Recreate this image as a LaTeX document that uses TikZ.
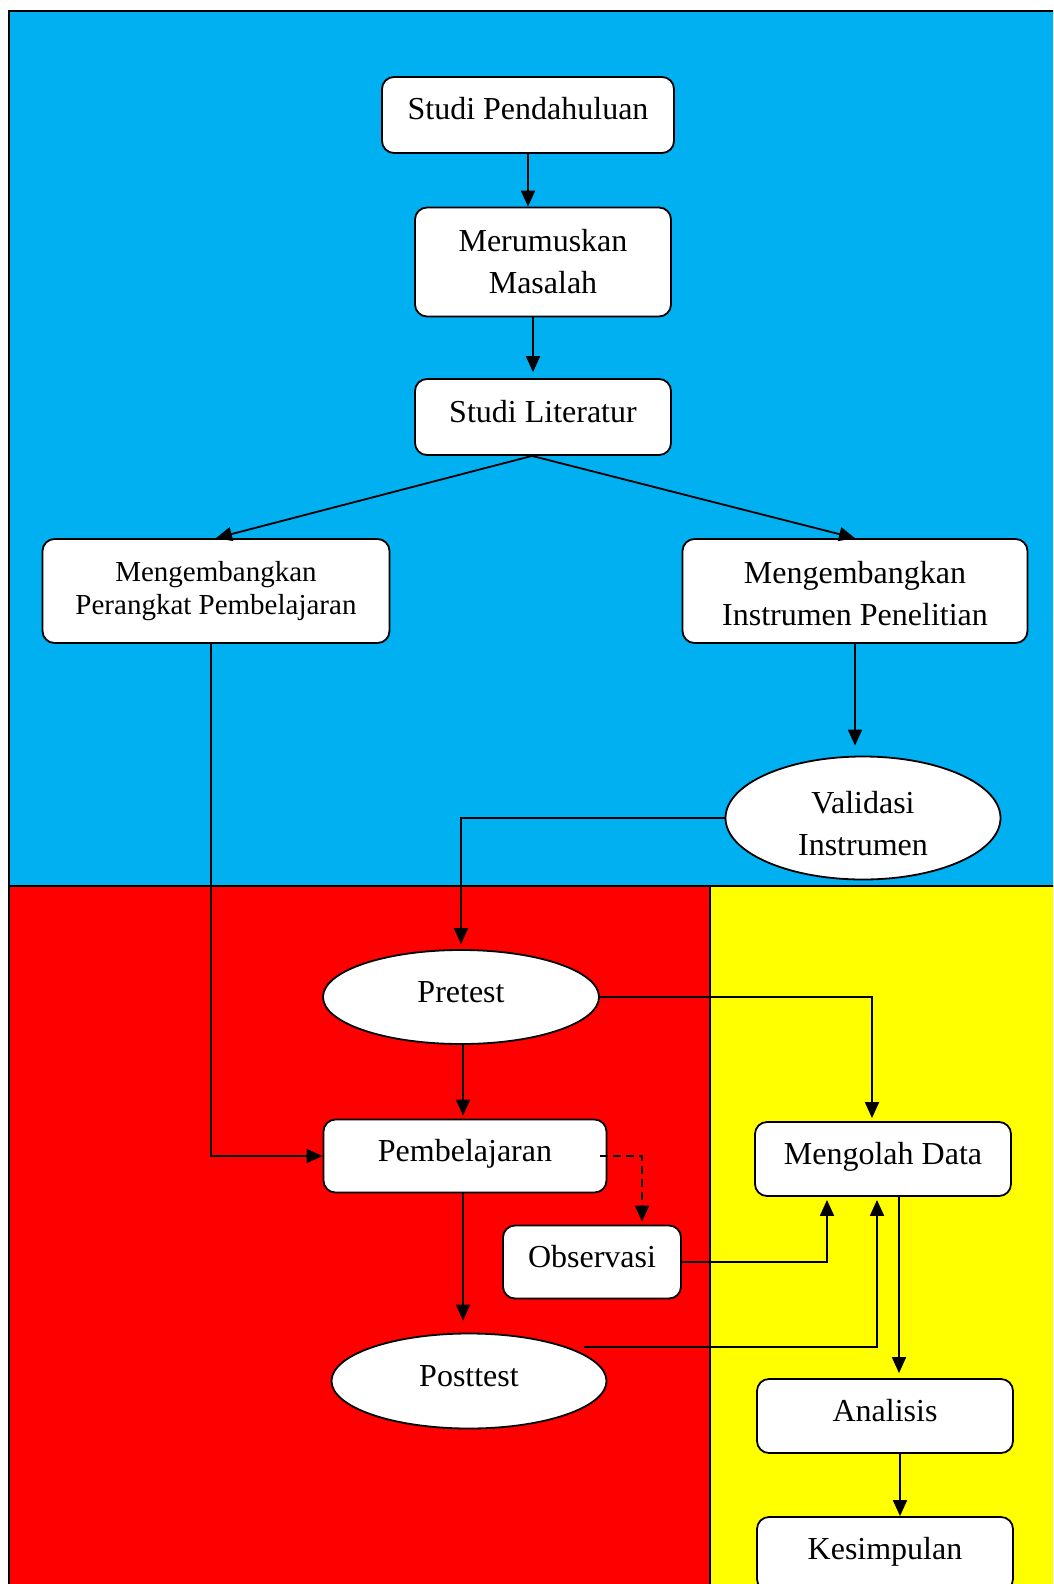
\documentclass[tikz,border=0pt]{standalone}
\usepackage{fontspec}
\setmainfont{Liberation Serif}
\usetikzlibrary{arrows.meta,shapes.geometric,calc}

\definecolor{langit}{RGB}{0,176,240}
\definecolor{merah}{RGB}{255,0,0}
\definecolor{kuning}{RGB}{255,255,0}
\tikzset{
  kotak/.style={draw,fill=white,rounded corners=12pt,line width=1.8pt,align=center,inner sep=0pt,font=\fontsize{32}{42}\selectfont},
  oval/.style={draw,fill=white,ellipse,line width=1.8pt,align=center,inner sep=0pt,font=\fontsize{32}{42}\selectfont},
  satu/.style={text height=22pt,text depth=12pt},
  panah/.style={line width=1.8pt,-{Triangle[length=16pt,width=14pt]}},
}

\begin{document}
\begin{tikzpicture}[x=1pt,y=-1pt]
\useasboundingbox(0,0)rectangle(1053,1584);
\clip(0,0)rectangle(1053,1584);
% latar
\draw[fill=langit,line width=2pt](9,11)rectangle(1080,886);
\draw[fill=merah,line width=2pt](9,886)rectangle(709.5,1600);
\draw[fill=kuning,line width=2pt](709.5,886)rectangle(1080,1600);
% tahap
\node[kotak,satu,minimum width=292pt,minimum height=76pt](sp)at(528,115){Studi Pendahuluan};
\node[kotak,minimum width=256pt,minimum height=109pt](mm)at(543,262){Merumuskan\\Masalah};
\node[kotak,satu,minimum width=256pt,minimum height=76pt](sl)at(543,417){Studi Literatur};
\node[kotak,minimum width=347pt,minimum height=104pt,font=\fontsize{29}{33.5}\selectfont](mpp)at(216,591){Mengembangkan\\Perangkat Pembelajaran};
\node[kotak,minimum width=345pt,minimum height=104pt](mip)at(855,591){\rule{0pt}{28pt}Mengembangkan\\Instrumen Penelitian};
\node[oval,minimum width=275pt,minimum height=123pt](vi)at(863,818){\rule{0pt}{33pt}Validasi\\Instrumen};
\node[oval,satu,minimum width=276pt,minimum height=94pt](pre)at(461,997){Pretest};
\node[kotak,satu,minimum width=283pt,minimum height=73pt](pbl)at(465,1156){Pembelajaran};
\node[kotak,satu,minimum width=178pt,minimum height=73pt](obs)at(592,1262){Observasi};
\node[oval,satu,minimum width=275pt,minimum height=95pt](post)at(469,1381){Posttest};
\node[kotak,satu,minimum width=256pt,minimum height=74pt](md)at(883,1159){Mengolah Data};
\node[kotak,satu,minimum width=256pt,minimum height=74pt](an)at(885,1416){Analisis};
\node[kotak,satu,minimum width=256pt,minimum height=74pt](kes)at(885,1554){Kesimpulan};
\coordinate(ujung)at(584,1347);
% alur
\draw[panah](sp.south)--(sp.south|-mm.north);
\draw[panah,shorten >=6pt]([xshift=-10pt]mm.south)--([xshift=-10pt]mm.south|-sl.north);
\draw[panah]([xshift=-11pt]sl.south)--(mpp.north);
\draw[panah]([xshift=-11pt]sl.south)--(mip.north);
\draw[panah]([xshift=-5pt]mpp.south)|-(pbl.west);
\draw[panah,shorten >=10pt](mip.south)--(mip.south|-vi.north);
\draw[panah,shorten >=5pt](vi.west)-|(pre.north);
\draw[panah,shorten >=3pt](pre.east)-|([xshift=-11pt]md.north);
\draw[panah,shorten >=3pt]([xshift=2pt]pre.south)--([xshift=2pt]pre.south|-pbl.north);
\draw[panah,dash pattern=on 8pt off 5pt,shorten >=3pt]([xshift=-7pt]pbl.east)-|([xshift=50pt]obs.north);
\draw[panah,shorten >=12pt]([xshift=-2pt]pbl.south)--([xshift=-2pt]pbl.south|-post.north);
\draw[panah,shorten >=3pt](obs.east)-|([xshift=-56pt]md.south);
\draw[panah,shorten >=3pt](ujung)-|([xshift=-6pt]md.south);
\draw[panah,shorten >=5pt]([xshift=16pt]md.south)--([xshift=16pt]md.south|-an.north);
\draw[panah]([xshift=15pt]an.south)--([xshift=15pt]an.south|-kes.north);
\end{tikzpicture}
\end{document}
